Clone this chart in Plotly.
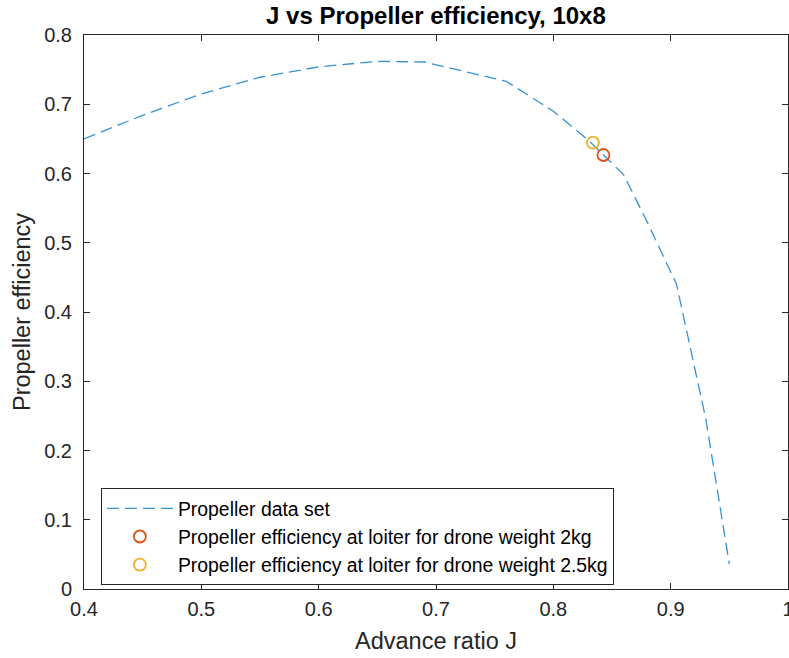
import plotly.graph_objects as go

# Propeller data set (10x8)
J = [0.40, 0.45, 0.50, 0.55, 0.60, 0.65, 0.69, 0.76, 0.80, 0.83, 0.86, 0.88, 0.905, 0.93, 0.95]
eta = [0.650, 0.684, 0.715, 0.739, 0.754, 0.762, 0.761, 0.733, 0.690, 0.648, 0.598, 0.530, 0.440, 0.245, 0.036]

# Loiter points
J_2kg, eta_2kg = [0.8427], [0.6267]
J_25kg, eta_25kg = [0.8337], [0.6445]

FONT = "Liberation Sans, Arial, Helvetica, sans-serif"
AX = "#262626"

fig = go.Figure()
fig.add_trace(go.Scatter(x=J, y=eta, mode="lines", name="Propeller data set",
                         line=dict(color="#3592d5", width=1.3, dash="12px,6px")))
fig.add_trace(go.Scatter(x=J_2kg, y=eta_2kg, mode="markers",
                         name="Propeller efficiency at loiter for drone weight 2kg",
                         marker=dict(symbol="circle-open", size=12, color="#D95319",
                                     line=dict(width=1.8, color="#D95319"))))
fig.add_trace(go.Scatter(x=J_25kg, y=eta_25kg, mode="markers",
                         name="Propeller efficiency at loiter for drone weight 2.5kg",
                         marker=dict(symbol="circle-open", size=12, color="#EDB120",
                                     line=dict(width=1.8, color="#EDB120"))))

axis_common = dict(showline=True, linecolor=AX, linewidth=1, mirror="ticks",
                   ticks="inside", ticklen=6, tickcolor=AX, tickwidth=1,
                   showgrid=False, zeroline=False, ticklabeloverflow="allow",
                   automargin=False,
                   tickfont=dict(family=FONT, size=20, color=AX))

fig.update_xaxes(range=[0.4, 1.0], tickvals=[0.4, 0.5, 0.6, 0.7, 0.8, 0.9, 1.0],
                 ticktext=["0.4", "0.5", "0.6", "0.7", "0.8", "0.9", "1"],
                 title=dict(text="Advance ratio J", font=dict(family=FONT, size=23.5, color=AX), standoff=13),
                 ticklabelstandoff=2,
                 **axis_common)
fig.update_yaxes(range=[0, 0.8], tickvals=[0, 0.1, 0.2, 0.3, 0.4, 0.5, 0.6, 0.7, 0.8],
                 ticktext=["0", "0.1", "0.2", "0.3", "0.4", "0.5", "0.6", "0.7", "0.8"],
                 title=dict(text="Propeller efficiency", font=dict(family=FONT, size=23.5, color=AX), standoff=6),
                 ticklabelstandoff=7,
                 **axis_common)

fig.update_layout(
    width=789, height=658,
    margin=dict(l=84, r=1, t=35, b=69, autoexpand=False),
    paper_bgcolor="white", plot_bgcolor="white",
    title=dict(text="<b>J vs Propeller efficiency, 10x8</b>", x=0.5525, xanchor="center",
               y=0.977, yanchor="middle", automargin=False,
               font=dict(family=FONT, size=24, color="black")),
    legend=dict(x=0.024, y=0.182, xanchor="left", yanchor="top",
                bordercolor=AX, borderwidth=1, bgcolor="white",
                font=dict(family=FONT, size=19.4, color="black"),
                itemwidth=66, tracegroupgap=0),
    showlegend=True,
)

fig.write_html("out.html")
